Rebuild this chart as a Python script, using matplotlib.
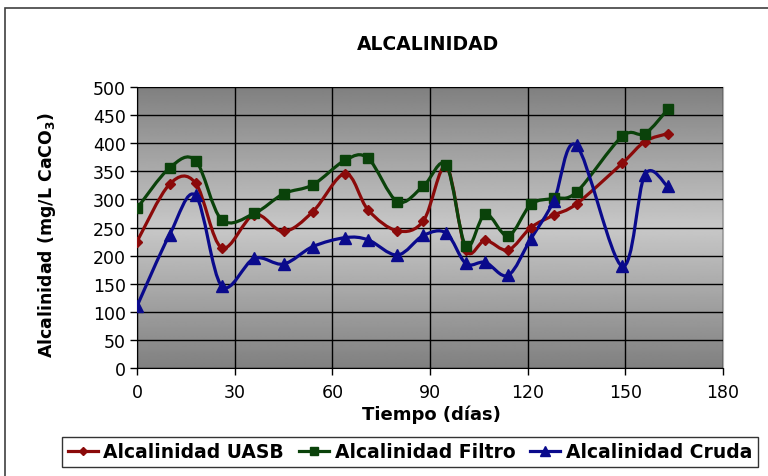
import numpy as np
import matplotlib.pyplot as plt
from matplotlib.path import Path
from matplotlib.patches import PathPatch, Rectangle
from matplotlib.lines import Line2D

plt.rcParams['font.family'] = ['DejaVu Sans']

# days of sampling
dias = [0, 10, 18, 26, 36, 45, 54, 64, 71, 80, 88, 95, 101, 107, 114,
        121, 128, 135, 149, 156, 163]

alc_uasb = [225, 327, 329, 214, 273, 243, 278, 346, 281, 244, 262, 359,
            210, 227, 210, 250, 272, 292, 364, 403, 417]
alc_filtro = [284, 356, 369, 264, 275, 310, 326, 370, 373, 296, 324, 361,
              217, 274, 235, 291, 302, 313, 412, 417, 460]
alc_cruda = [110, 237, 307, 146, 195, 185, 216, 232, 228, 201, 236, 240,
             186, 188, 165, 230, 297, 396, 181, 344, 323]

series = [
    ('Alcalinidad UASB', alc_uasb, '#8b0a0a', 'D', 5),
    ('Alcalinidad Filtro', alc_filtro, '#0a420a', 's', 7),
    ('Alcalinidad Cruda', alc_cruda, '#0a0a8c', '^', 8),
]


def smooth_path(x, y):
    # Excel-like smoothed line: Catmull-Rom segments as cubic Beziers
    p = np.column_stack([x, y]).astype(float)
    n = len(p)
    verts = [p[0]]
    codes = [Path.MOVETO]
    for i in range(n - 1):
        p0 = p[i - 1] if i > 0 else p[i]
        p3 = p[i + 2] if i + 2 < n else p[i + 1]
        c1 = p[i] + (p[i + 1] - p0) / 6.0
        c2 = p[i + 1] - (p3 - p[i]) / 6.0
        verts += [c1, c2, p[i + 1]]
        codes += [Path.CURVE4] * 3
    return Path(verts, codes)


fig = plt.figure(figsize=(7.68, 4.77), dpi=100)
ax = fig.add_axes([137 / 768, 1 - 369 / 477, 586 / 768, 281 / 477])

# chart area border
fig.patches.append(Rectangle((5 / 768, -0.1), 1.2, 1 - 9 / 477 + 0.1,
                             transform=fig.transFigure, fill=False,
                             edgecolor='#404040', lw=1.2))

# gradient background (dark edges, light center)
t = np.linspace(0, 1, 256)
g = 1 - np.abs(t - 0.5) * 2
grad = (0x80 + (0xc8 - 0x80) * g) / 255.0
ax.imshow(grad[:, None], extent=[0, 180, 0, 500], aspect='auto',
          cmap='gray', vmin=0, vmax=1, zorder=0, interpolation='bilinear')

ax.set_xlim(0, 180)
ax.set_ylim(0, 500)
ax.set_xticks(np.arange(0, 181, 30))
ax.set_yticks(np.arange(0, 501, 50))
ax.grid(True, color='black', lw=1.0, zorder=1)
ax.set_axisbelow(False)
for gl in ax.get_xgridlines() + ax.get_ygridlines():
    gl.set_zorder(1)

handles = []
for name, vals, col, mk, ms in series:
    ax.add_patch(PathPatch(smooth_path(dias, vals), fill=False,
                           edgecolor=col, lw=2.3, zorder=3))
    ax.plot(dias, vals, ls='none', marker=mk, ms=ms, color=col, zorder=4)
    handles.append(Line2D([], [], color=col, lw=2.3, marker=mk, ms=ms - 1,
                          label=name))

for s in ['top', 'right']:
    ax.spines[s].set_color('#b0b0b0')
for s in ['left', 'bottom']:
    ax.spines[s].set_color('black')
ax.tick_params(direction='out', length=5, width=1, labelsize=12.5)
ax.tick_params(axis='x', pad=5.5)
ax.tick_params(axis='y', pad=3)

ax.set_xlabel('Tiempo (días)', fontsize=13, fontweight='bold')
ax.xaxis.set_label_coords(0.503, -0.13)
ax.set_ylabel('Alcalinidad (mg/L CaCO$_\\mathbf{3}$)', fontsize=12.5,
              fontweight='bold')
ax.yaxis.set_label_coords(-0.135, 0.475)

fig.text(428 / 768, 1 - 44 / 477, 'ALCALINIDAD', ha='center', va='center',
         fontsize=13.5, fontweight='bold')

leg = fig.legend(handles=handles, loc='center', ncol=3,
                 bbox_to_anchor=(410 / 768, 1 - 453 / 477),
                 prop={'size': 13.5, 'weight': 'bold'}, frameon=True,
                 fancybox=False, edgecolor='black', handlelength=1.6,
                 handletextpad=0.3, columnspacing=0.8, borderpad=0.3)
leg.get_frame().set_linewidth(1.0)

fig.savefig('out.png', dpi=100)
